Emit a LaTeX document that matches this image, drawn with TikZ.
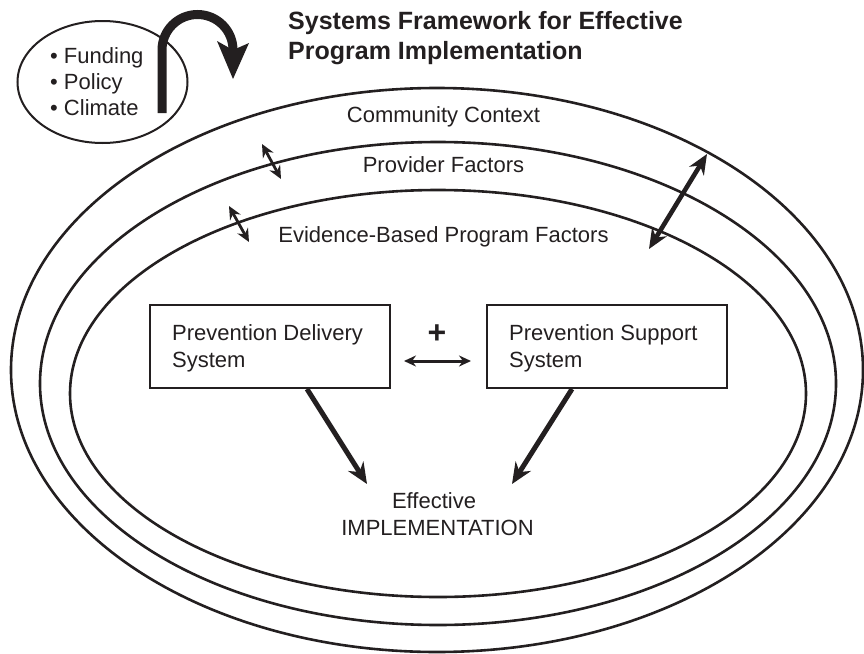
\documentclass[tikz,border=0pt]{standalone}
\usepackage{fontspec}
\setmainfont{Liberation Sans}
\usetikzlibrary{arrows.meta,shapes.geometric}
\definecolor{ink}{RGB}{35,31,32}
\begin{document}
\begin{tikzpicture}[x=1pt,y=-1pt,
  body/.style={inner sep=0pt, font=\fontsize{22}{27}\selectfont, text=ink},
  ttl/.style={inner sep=0pt, font=\fontsize{25}{30}\selectfont\bfseries, text=ink},
  ring/.style={ellipse, draw=ink, line width=2.6pt, inner sep=0pt, outer sep=0pt},
  sysbox/.style={draw=ink, line width=2pt, minimum width=240pt, minimum height=83pt, inner sep=0pt},
  bigarrow/.style={draw=ink, line width=5pt, -{Stealth[length=21pt,width=18pt]}},
  bigdouble/.style={draw=ink, line width=4.6pt, {Stealth[length=20pt,width=17pt]}-{Stealth[length=20pt,width=17pt]}},
  smalldouble/.style={draw=ink, line width=2.8pt, {Stealth[length=13pt,width=12pt]}-{Stealth[length=13pt,width=12pt]}},
]
\useasboundingbox (0,0) rectangle (864,653);

% nested rings
\node[ring, minimum width=852pt, minimum height=564pt] (outer) at (437,370) {};
\node[ring, minimum width=796pt, minimum height=483pt] (middle) at (438,383.5) {};
\node[ring, minimum width=736pt, minimum height=407pt] (inner) at (438,393.5) {};

% external factors
\node[ring, line width=2pt, minimum width=170pt, minimum height=122pt] (ext) at (102.5,82) {};
\node[body, anchor=base west] (fund) at (50,63) {• Funding};
\node[body, anchor=base west] (pol) at (50,89) {• Policy};
\node[body, anchor=base west] (clim) at (50,115) {• Climate};

% curved arrow
\draw[ink, line width=9pt] (162,113) -- (162,50) arc[start angle=180, end angle=360, radius=35.5];
\fill[ink] (233,79) -- (217,41) -- (233,50) -- (249,43) -- cycle;

% title
\node[ttl, anchor=base west] (t1) at (288,29) {Systems Framework for Effective};
\node[ttl, anchor=base west] (t2) at (288,59) {Program Implementation};

% ring labels
\node[body, anchor=base] (cc) at (443.5,122) {Community Context};
\node[body, anchor=base] (pf) at (443.5,172) {Provider Factors};
\node[body, anchor=base] (ebp) at (443.5,242) {Evidence-Based Program Factors};

% arrows between rings
\coordinate (a1s) at (262,144);
\coordinate (a1e) at (281,179);
\coordinate (a2s) at (229,206);
\coordinate (a2e) at (249,242);
\coordinate (a3s) at (707,154);
\coordinate (a3e) at (649,249);
\draw[smalldouble] (a1s) -- (a1e);
\draw[smalldouble] (a2s) -- (a2e);
\draw[bigdouble] (a3s) -- (a3e);

% system boxes
\node[sysbox] (pd) at (270,346.5) {};
\node[sysbox] (ps) at (607,346.5) {};
\node[body, anchor=base west] (pd1) at (172,340) {Prevention Delivery};
\node[body, anchor=base west] (pd2) at (172,367) {System};
\node[body, anchor=base west] (ps1) at (509,340) {Prevention Support};
\node[body, anchor=base west] (ps2) at (509,367) {System};

\node[inner sep=0pt, font=\fontsize{32}{32}\selectfont\bfseries, text=ink] (plus) at (437,334) {+};
\draw[draw=ink, line width=3pt, {Stealth[length=12pt,width=11pt]}-{Stealth[length=12pt,width=11pt]}]
  ([shift={(13,14.5)}]pd.east) -- ([shift={(-15,14.5)}]ps.west);

% outcome
\node[body, anchor=base] (eff) at (434,508) {Effective};
\node[body, anchor=base] (impl) at (437.5,535) {IMPLEMENTATION};
\coordinate (effL) at (367,484);
\coordinate (effR) at (512,484);
\draw[bigarrow] ([xshift=37pt]pd.south) -- (effL);
\draw[bigarrow] ([xshift=-35pt]ps.south) -- (effR);
\end{tikzpicture}
\end{document}
